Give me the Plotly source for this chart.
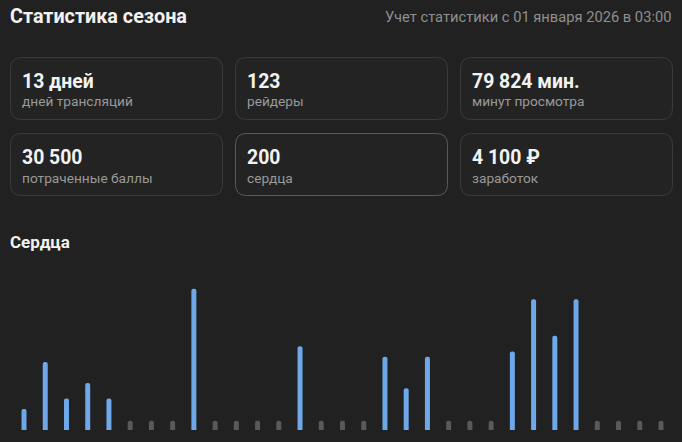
import plotly.graph_objects as go

W, H = 682, 442

# ---- data ----
title_text = "Статистика сезона"
subtitle_text = "Учет статистики с 01 января 2026 в 03:00"
card_values = ["13 дней", "123", "79 824 мин.", "30 500", "200", "4 100 ₽"]
card_labels = ["дней трансляций", "рейдеры", "минут просмотра",
               "потраченные баллы", "сердца", "заработок"]
chart_title = "Сердца"
days = list(range(1, 32))
hearts = [4, 13, 6, 9, 6, 0, 0, 0, 27, 0, 0, 0, 0, 16, 0, 0, 0,
          14, 8, 14, 0, 0, 0, 15, 25, 18, 25, 0, 0, 0, 0]

# ---- style ----
BG = "#212121"
CARD_FILL = "#232323"
CARD_BORDER = "#3b3b3b"
CARD_BORDER_ACTIVE = "#5a5a5a"
BLUE = "#6ea8e9"
GREY = "#595959"
FONT = "Roboto"
zero_stub = 1.75  # visual stub height for empty days

px_per_unit = 141.3 / 27
plot_top, plot_bottom = 270, 430
y_max = (plot_bottom - plot_top) / px_per_unit

blue_x = [d for d, v in zip(days, hearts) if v > 0]
blue_y = [v for v in hearts if v > 0]
grey_x = [d for d, v in zip(days, hearts) if v == 0]
grey_y = [zero_stub for v in hearts if v == 0]

fig = go.Figure()
fig.add_trace(go.Bar(x=grey_x, y=grey_y, width=0.235,
                     marker=dict(color=GREY, cornerradius=3, line_width=0),
                     hoverinfo="skip"))
fig.add_trace(go.Bar(x=blue_x, y=blue_y, width=0.235,
                     marker=dict(color=BLUE, cornerradius=3, line_width=0)))


def fx(p):
    return p / W


def fy(p):
    return 1 - p / H


def rrect(x0, y0, x1, y1, r):
    return (f"M {fx(x0 + r)} {fy(y0)} L {fx(x1 - r)} {fy(y0)} "
            f"Q {fx(x1)} {fy(y0)} {fx(x1)} {fy(y0 + r)} "
            f"L {fx(x1)} {fy(y1 - r)} Q {fx(x1)} {fy(y1)} {fx(x1 - r)} {fy(y1)} "
            f"L {fx(x0 + r)} {fy(y1)} Q {fx(x0)} {fy(y1)} {fx(x0)} {fy(y1 - r)} "
            f"L {fx(x0)} {fy(y0 + r)} Q {fx(x0)} {fy(y0)} {fx(x0 + r)} {fy(y0)} Z")


shapes = []
annotations = []
col_x = [10.5, 235.5, 460.5]
row_y = [57.5, 133.5]
cw, ch = 212, 62
for i, (val, lab) in enumerate(zip(card_values, card_labels)):
    cx = col_x[i % 3]
    cy = row_y[i // 3]
    border = CARD_BORDER_ACTIVE if i == 4 else CARD_BORDER
    shapes.append(dict(type="path", xref="paper", yref="paper",
                       path=rrect(cx, cy, cx + cw, cy + ch, 11),
                       fillcolor=CARD_FILL, line=dict(color=border, width=1),
                       layer="below"))
    annotations.append(dict(x=fx(cx + 9.5), y=fy(cy + 24), xref="paper", yref="paper",
                            text=f"<b>{val}</b>", showarrow=False,
                            xanchor="left", yanchor="middle",
                            font=dict(family=FONT, size=19.4, color="#f2f2f2")))
    annotations.append(dict(x=fx(cx + 9.5), y=fy(cy + 44), xref="paper", yref="paper",
                            text=lab, showarrow=False,
                            xanchor="left", yanchor="middle",
                            font=dict(family=FONT, size=13.7, color="#9a9a9a")))

annotations.append(dict(x=fx(8), y=fy(17), xref="paper", yref="paper",
                        text=f"<b>{title_text}</b>", showarrow=False,
                        xanchor="left", yanchor="middle",
                        font=dict(family=FONT, size=19.8, color="#f2f2f2")))
annotations.append(dict(x=fx(673), y=fy(17), xref="paper", yref="paper",
                        text=subtitle_text, showarrow=False,
                        xanchor="right", yanchor="middle",
                        font=dict(family=FONT, size=14.7, color="#8f8f8f")))
annotations.append(dict(x=fx(8), y=fy(242), xref="paper", yref="paper",
                        text=f"<b>{chart_title}</b>", showarrow=False,
                        xanchor="left", yanchor="middle",
                        font=dict(family=FONT, size=17, color="#f2f2f2")))

fig.update_layout(
    width=W, height=H,
    margin=dict(l=0, r=0, t=0, b=0),
    paper_bgcolor=BG, plot_bgcolor=BG,
    showlegend=False,
    barmode="overlay",
    shapes=shapes,
    annotations=annotations,
    xaxis=dict(domain=[13.4 / W, 671.6 / W], range=[0.5, 31.5],
               visible=False, fixedrange=True),
    yaxis=dict(domain=[(H - plot_bottom) / H, (H - plot_top) / H],
               range=[0, y_max], visible=False, fixedrange=True),
)

fig.write_html("out.html",
               config={"displayModeBar": False},
               post_script="document.body.style.margin='0';"
                           "document.body.style.background='" + BG + "';")
